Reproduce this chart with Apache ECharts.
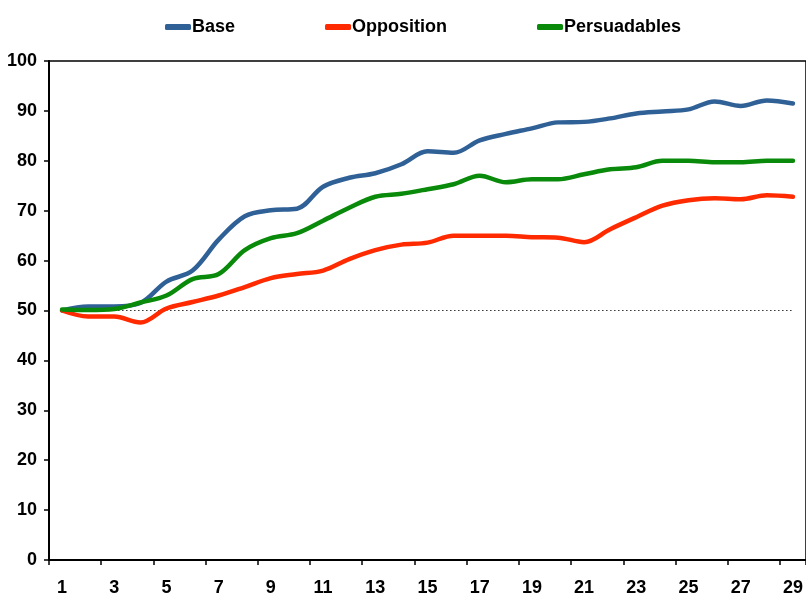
<!DOCTYPE html>
<html><head><meta charset="utf-8">
<script src="https://cdn.jsdelivr.net/npm/echarts@6/dist/echarts.min.js"></script>
<style>html,body{margin:0;padding:0;background:#fff}#c{width:806px;height:601px}</style>
</head><body><div id="c"></div>
<script>
const categories = Array.from({length: 29}, (_, i) => String(i + 1));
const base = [50, 50.8, 50.8, 51.5, 55.8, 58, 64.2, 68.9, 70.1, 70.4, 74.8, 76.6, 77.5, 79.3, 81.9, 81.6, 84.1, 85.4, 86.5, 87.7, 87.8, 88.5, 89.5, 89.9, 90.3, 91.9, 91, 92.1, 91.5];
const opposition = [50, 48.8, 48.8, 47.6, 50.4, 51.7, 53, 54.7, 56.5, 57.3, 58, 60.3, 62.1, 63.2, 63.6, 65, 65, 65, 64.7, 64.6, 63.7, 66.3, 68.7, 71, 72.1, 72.5, 72.3, 73.1, 72.8];
const persuadables = [50.2, 50.1, 50.3, 51.6, 53, 56.3, 57.3, 62.1, 64.5, 65.5, 68, 70.6, 72.8, 73.4, 74.3, 75.3, 77, 75.7, 76.3, 76.3, 77.3, 78.3, 78.7, 80, 80, 79.7, 79.7, 80, 80];
const reference = Array(29).fill(50);
const yTicks = [0, 10, 20, 30, 40, 50, 60, 70, 80, 90, 100];

const font = '"Liberation Sans Narrow", "Arial Narrow", "Liberation Sans", sans-serif';
const chart = echarts.init(document.getElementById('c'), null, {renderer: 'canvas'});
function lineSeries(name, data, color) {
  return {name, type: 'line', data, smooth: 0.35, symbol: 'none',
    lineStyle: {color, width: 4.5, cap: 'round'}, itemStyle: {color}, z: 3};
}
chart.setOption({
  animation: false,
  backgroundColor: '#fff',
  textStyle: {fontFamily: font},
  legend: {
    top: 13, left: 160, itemGap: 90, itemWidth: 26, itemHeight: 6,
    icon: 'roundRect',
    textStyle: {fontFamily: font, fontWeight: 'bold', fontSize: 18, color: '#000', padding: [0, 0, 0, -4]},
    data: ['Base', 'Opposition', 'Persuadables']
  },
  grid: {left: 49, right: -1, top: 61, bottom: 41, show: true, borderColor: '#000', borderWidth: 1.5},
  xAxis: {
    type: 'category', data: categories, boundaryGap: true,
    axisLine: {lineStyle: {color: '#000', width: 2}},
    axisTick: {show: true, interval: 1, length: 5, lineStyle: {color: '#000', width: 1.5}},
    axisLabel: {interval: 1, margin: 19, fontFamily: font, fontWeight: 'bold', fontSize: 18, color: '#000'}
  },
  yAxis: {
    type: 'value', min: yTicks[0], max: yTicks[yTicks.length - 1], interval: 10,
    axisLine: {show: true, lineStyle: {color: '#000', width: 2}},
    axisTick: {show: true, length: 5, lineStyle: {color: '#000', width: 1.5}},
    splitLine: {show: false},
    axisLabel: {margin: 12, fontFamily: font, fontWeight: 'bold', fontSize: 18, color: '#000'}
  },
  series: [
    {name: 'ref', type: 'line', data: reference, symbol: 'none', silent: true,
      lineStyle: {color: '#333', width: 1, type: [1.5, 2.5]}, z: 2},
    lineSeries('Base', base, '#2F6096'),
    lineSeries('Opposition', opposition, '#FF2A00'),
    lineSeries('Persuadables', persuadables, '#0A8A0A')
  ]
});
</script></body></html>
